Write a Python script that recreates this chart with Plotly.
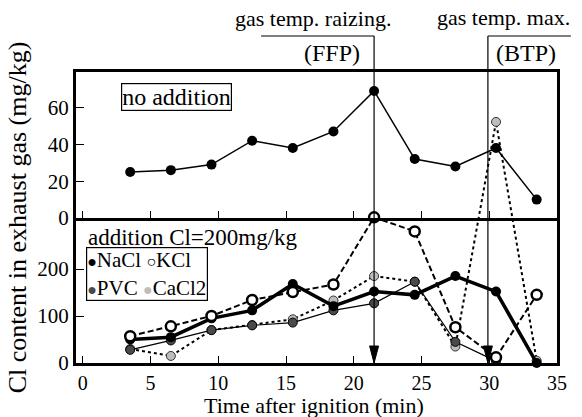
import plotly.graph_objects as go

# ---------------- data ----------------
time_min = [3.5, 6.5, 9.5, 12.5, 15.5, 18.5, 21.5, 24.5, 27.5, 30.5, 33.5]
no_addition = [25, 26, 29, 42, 38, 47, 69, 32, 28, 38, 10]
nacl = [50, 55, 95, 112, 168, 121, 152, 145, 185, 152, 0]
kcl = [57, 78, 100, 134, 151, 167, 310, 280, 76, 12, 145]
pvc = [28, 48, 70, 80, 86, 112, 127, 173, 45, 4, None]
cacl2 = [30, 15, 70, 81, 93, 133, 185, 173, 35, 513, 5]

events = {"FFP": 21.5, "BTP": 29.9}
event_labels = {"FFP": "gas temp. raizing.", "BTP": "gas temp. max."}

x_ticks = [0, 5, 10, 15, 20, 25, 30, 35]
top_ticks = [0, 20, 40, 60]
bottom_ticks = [0, 100, 200]

# ---------------- geometry ----------------
W, H = 582, 417
L, R, T, B = 76, 25, 72, 54
PW, PH = W - L - R, H - T - B
X_RANGE = [-0.5, 35]
SEP_PX = 218            # separator between panels (pixels from top)
sep_frac = (H - B - SEP_PX) / PH
Y_RANGE = [0, PH / 0.47]
Y2_RANGE = [0, 79.3]
FONT = "Liberation Serif, Times New Roman, DejaVu Serif, serif"


def px2x(px):
    return (px - L) / PW


def py2y(py):
    return (H - B - py) / PH


def data2paper_x(v):
    return (v - X_RANGE[0]) / (X_RANGE[1] - X_RANGE[0])


fig = go.Figure()

# top panel
fig.add_trace(go.Scatter(
    x=time_min, y=no_addition, xaxis="x2", yaxis="y2", mode="lines+markers",
    line=dict(color="black", width=1.5),
    marker=dict(color="black", size=10), showlegend=False, cliponaxis=False))

# bottom panel
fig.add_trace(go.Scatter(
    x=time_min, y=cacl2, mode="lines+markers", name="CaCl2",
    line=dict(color="black", width=2, dash="dot"),
    marker=dict(color="#bdbdbd", size=9, line=dict(color="#333", width=1)),
    showlegend=False, cliponaxis=False))
fig.add_trace(go.Scatter(
    x=time_min, y=pvc, mode="lines+markers", name="PVC",
    line=dict(color="black", width=1.2),
    marker=dict(color="#4a4a4a", size=9, line=dict(color="black", width=1)),
    showlegend=False, cliponaxis=False))
fig.add_trace(go.Scatter(
    x=time_min, y=nacl, mode="lines+markers", name="NaCl",
    line=dict(color="black", width=3.5),
    marker=dict(color="black", size=10), showlegend=False, cliponaxis=False))
fig.add_trace(go.Scatter(
    x=time_min, y=kcl, mode="lines+markers", name="KCl",
    line=dict(color="black", width=2, dash="6px,3px"),
    marker=dict(color="white", size=10, line=dict(color="black", width=2.5)),
    showlegend=False, cliponaxis=False))

axis_font = dict(family=FONT, size=21, color="black")
fig.update_layout(
    width=W, height=H,
    margin=dict(l=L, r=R, t=T, b=B, autoexpand=False),
    paper_bgcolor="white", plot_bgcolor="rgba(0,0,0,0)",
    font=dict(family=FONT, color="black"),
    xaxis=dict(domain=[0, 1], range=X_RANGE, anchor="y", tickvals=x_ticks,
               ticks="inside", ticklen=7, tickwidth=1.2, tickcolor="black",
               showline=True, linewidth=3, linecolor="black", showgrid=False,
               zeroline=False, tickfont=dict(family=FONT, size=20),
               automargin=False),
    xaxis2=dict(domain=[0, 1], matches="x", anchor="y2", tickvals=x_ticks,
                ticks="inside", ticklen=7, tickwidth=1.2, tickcolor="black",
                showticklabels=False, showline=True, linewidth=3,
                linecolor="black", mirror=True, showgrid=False, zeroline=False,
                automargin=False),
    yaxis=dict(domain=[0, 1], range=Y_RANGE, anchor="x", tickvals=bottom_ticks,
               ticks="inside", ticklen=8, tickwidth=1.2, tickcolor="black",
               showline=True, linewidth=3, linecolor="black", mirror=True,
               showgrid=False, zeroline=False, tickfont=axis_font,
               automargin=False,
               title=dict(text="Cl content in exhaust gas (mg/kg)",
                          font=dict(family=FONT, size=26), standoff=4)),
    yaxis2=dict(domain=[sep_frac, 1], range=Y2_RANGE, anchor="x2",
                tickvals=top_ticks, ticks="inside", ticklen=8, tickwidth=1.2,
                tickcolor="black", showline=True, linewidth=3,
                linecolor="black", mirror=True, showgrid=False,
                zeroline=False, tickfont=axis_font, automargin=False),
)

shapes = []
annotations = []
bracket_top = py2y(36)
bracket_len = {"FFP": 113, "BTP": 83}
label_center = {"FFP": (313, 18), "BTP": (503, 17)}
paren_center = {"FFP": (332, 53), "BTP": (526, 53)}
for key, xv in events.items():
    xp = data2paper_x(xv)
    shapes.append(dict(type="line", xref="paper", yref="paper",
                       x0=xp, x1=xp, y0=0, y1=bracket_top,
                       line=dict(color="black", width=1.2)))
    if key == "FFP":
        x0, x1 = xp - bracket_len[key] / PW, xp
    else:
        x0, x1 = xp, xp + bracket_len[key] / PW
    shapes.append(dict(type="line", xref="paper", yref="paper",
                       x0=x0, x1=x1, y0=bracket_top, y1=bracket_top,
                       line=dict(color="black", width=1.2)))
    shapes.append(dict(type="path", xref="paper", yref="paper",
                       xsizemode="pixel", ysizemode="pixel",
                       xanchor=xp, yanchor=0,
                       path="M-4.5,17 L4.5,17 L0,0 Z",
                       fillcolor="black", line=dict(color="black", width=1)))
    cx, cy = label_center[key]
    annotations.append(dict(text=event_labels[key], xref="paper", yref="paper",
                            x=px2x(cx), y=py2y(cy), showarrow=False,
                            xanchor="center", yanchor="middle",
                            font=dict(family=FONT, size=22)))
    cx, cy = paren_center[key]
    annotations.append(dict(text="(" + key + ")", xref="paper", yref="paper",
                            x=px2x(cx), y=py2y(cy), showarrow=False,
                            xanchor="center", yanchor="middle",
                            font=dict(family=FONT, size=24)))

# x-axis title
annotations.append(dict(text="Time after ignition (min)", xref="paper",
                        yref="paper", x=px2x(314), y=py2y(405.5),
                        showarrow=False, xanchor="center", yanchor="middle",
                        font=dict(family=FONT, size=22)))
# "no addition" label
annotations.append(dict(text="no addition", xref="paper", yref="paper",
                        x=px2x(176), y=py2y(97), showarrow=False,
                        xanchor="center", yanchor="middle",
                        bordercolor="black", borderwidth=1.2, borderpad=0,
                        bgcolor="white", font=dict(family=FONT, size=24)))
# bottom panel title and legend
annotations.append(dict(text="addition Cl=200mg/kg", xref="paper", yref="paper",
                        x=px2x(86), y=py2y(237), showarrow=False,
                        xanchor="left", yanchor="middle",
                        font=dict(family=FONT, size=23)))
annotations.append(dict(
    text='<span style="font-size:16px">●</span>NaCl '
         '<span style="font-size:16px"><b>○</b></span>KCl<br>'
         '<span style="font-size:16px;color:#4a4a4a">●</span>PVC '
         '<span style="font-size:16px;color:#bdbdbd">●</span>CaCl2',
    xref="paper", yref="paper", x=px2x(86), y=py2y(274), showarrow=False,
    xanchor="left", yanchor="middle", align="left",
    bordercolor="black", borderwidth=1.2, borderpad=0, bgcolor="white",
    font=dict(family=FONT, size=21)))

fig.update_layout(shapes=shapes, annotations=annotations)
fig.write_html("out.html",
               config={"displayModeBar": False},
               post_script="document.body.style.margin='0px';"
                           "document.body.style.overflow='hidden';")
